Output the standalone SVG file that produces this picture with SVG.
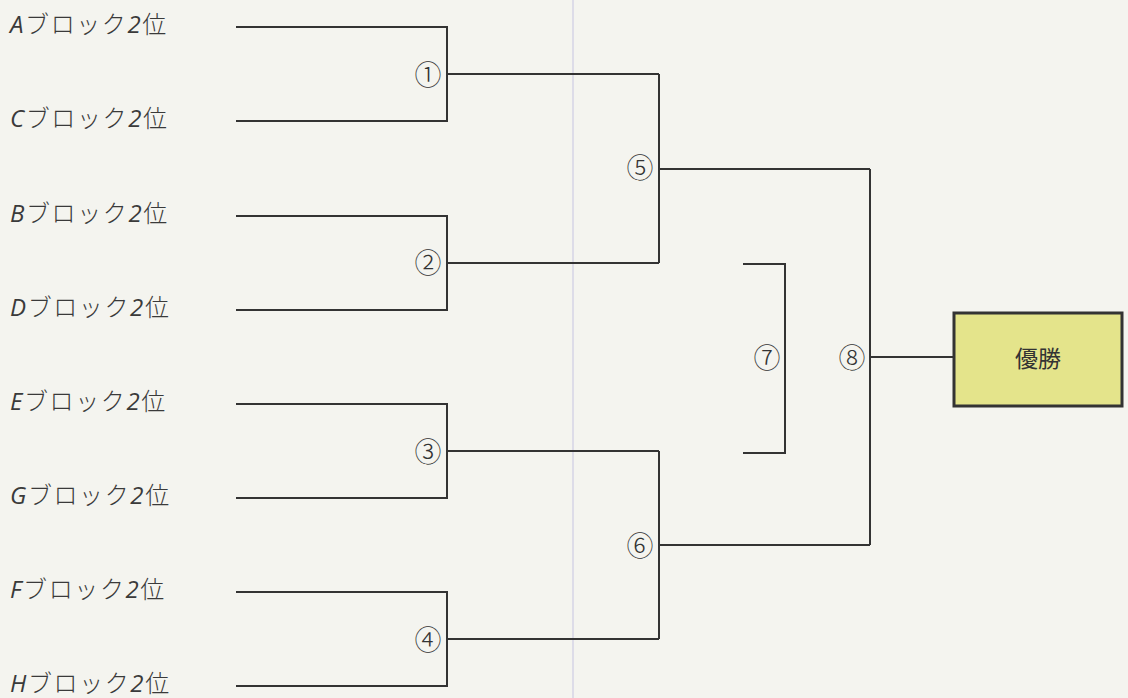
<svg xmlns="http://www.w3.org/2000/svg" width="1128" height="698" viewBox="0 0 1128 698">
<style>
.lbl{font-family:"Noto Sans CJK JP","Noto Sans",sans-serif;font-size:24px;font-weight:300;letter-spacing:1.6px;fill:#3a3a3a}
.lat{font-style:italic;font-family:"Open Sans","Noto Sans",sans-serif;font-weight:400}
.num{font-family:"Noto Sans CJK JP",sans-serif;font-size:27px;font-weight:300;fill:#333;text-anchor:middle;dominant-baseline:central}
.ln{fill:none;stroke:#333;stroke-width:2}
</style>
<rect width="1128" height="698" fill="#f4f4ef"/>
<line x1="573" y1="0" x2="573" y2="698" stroke="#d6d4e6" stroke-width="1.5"/>
<g id="teams">
<text id="tA" class="lbl" x="10" y="33"><tspan class="lat">A</tspan>ブロック<tspan class="lat">2</tspan>位</text>
<text id="tC" class="lbl" x="10" y="127"><tspan class="lat">C</tspan>ブロック<tspan class="lat">2</tspan>位</text>
<text id="tB" class="lbl" x="10" y="222"><tspan class="lat">B</tspan>ブロック<tspan class="lat">2</tspan>位</text>
<text id="tD" class="lbl" x="10" y="316"><tspan class="lat">D</tspan>ブロック<tspan class="lat">2</tspan>位</text>
<text id="tE" class="lbl" x="10" y="410"><tspan class="lat">E</tspan>ブロック<tspan class="lat">2</tspan>位</text>
<text id="tG" class="lbl" x="10" y="504"><tspan class="lat">G</tspan>ブロック<tspan class="lat">2</tspan>位</text>
<text id="tF" class="lbl" x="10" y="598"><tspan class="lat">F</tspan>ブロック<tspan class="lat">2</tspan>位</text>
<text id="tH" class="lbl" x="10" y="692"><tspan class="lat">H</tspan>ブロック<tspan class="lat">2</tspan>位</text>
</g>
<g id="connectors">
<path class="ln" d="M236 27H447V121H236M447 74H659"/>
<path class="ln" d="M236 216H447V310H236M447 263H659"/>
<path class="ln" d="M236 404H447V498H236M447 451H659"/>
<path class="ln" d="M236 592H447V686H236M447 639H659"/>
<path class="ln" d="M659 74V263M659 169H870"/>
<path class="ln" d="M659 451V639M659 545H870"/>
<path class="ln" d="M870 169V545M870 357H953"/>
<path class="ln" d="M743 264H785V453H743"/>
</g>
<g id="m1"><text class="num" x="428" y="73">①</text></g>
<g id="m2"><text class="num" x="428" y="261">②</text></g>
<g id="m3"><text class="num" x="428" y="450">③</text></g>
<g id="m4"><text class="num" x="428" y="638">④</text></g>
<g id="m5"><text class="num" x="640" y="166">⑤</text></g>
<g id="m6"><text class="num" x="640" y="544">⑥</text></g>
<g id="m7"><text class="num" x="767" y="356">⑦</text></g>
<g id="m8"><text class="num" x="852" y="356">⑧</text></g>
<g id="winner">
<rect x="954" y="313" width="168" height="93" fill="#e4e48b" stroke="#333" stroke-width="3"/>
<text x="1038" y="357" font-family="Noto Sans CJK JP,sans-serif" font-size="23" fill="#333" text-anchor="middle" dominant-baseline="central">優勝</text>
</g>
</svg>
